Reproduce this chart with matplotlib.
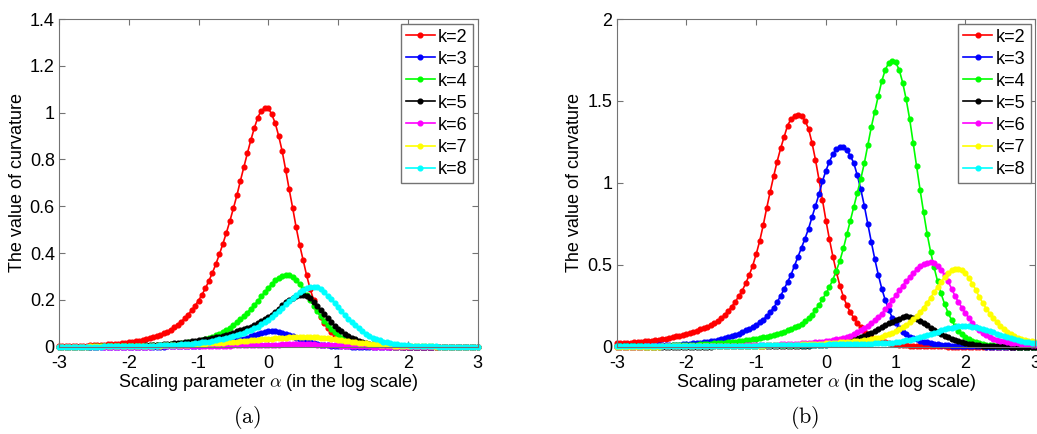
import numpy as np
import matplotlib
matplotlib.use("Agg")
import matplotlib.pyplot as plt
from matplotlib.ticker import FuncFormatter

# scaling parameter (log scale), step 0.05
alpha = np.round(np.linspace(-3, 3, 121), 2)

labels = ["k=2", "k=3", "k=4", "k=5", "k=6", "k=7", "k=8"]
colors = ["#ff0000", "#0000ff", "#00ff00", "#000000", "#ff00ff", "#ffff00", "#00ffff"]

# ---- panel (a) ----
a_k2 = [0.0022, 0.0024, 0.0027, 0.0030, 0.0033, 0.0037, 0.0041, 0.0046, 0.0051, 0.0057,
        0.0064, 0.0071, 0.0079, 0.0088, 0.0098, 0.011, 0.012, 0.0135, 0.015, 0.017,
        0.019, 0.021, 0.023, 0.026, 0.029, 0.032, 0.036, 0.040, 0.045, 0.050,
        0.057, 0.064, 0.073, 0.083, 0.094, 0.107, 0.121, 0.137, 0.155, 0.175,
        0.197, 0.222, 0.250, 0.282, 0.316, 0.354, 0.395, 0.440, 0.487, 0.537,
        0.591, 0.646, 0.708, 0.767, 0.826, 0.882, 0.934, 0.979, 1.009, 1.018,
        1.019, 0.993, 0.955, 0.900, 0.835, 0.755, 0.672, 0.593, 0.510, 0.435,
        0.370, 0.305, 0.248, 0.200, 0.160, 0.127, 0.100, 0.080, 0.063, 0.050,
        0.041, 0.033, 0.026, 0.020, 0.016, 0.012, 0.009, 0.007, 0.005, 0.004,
        0.003, 0.0022, 0.0016, 0.0012, 0.0009, 0.0007, 0.0005, 0.0004, 0.0003, 0.0002,
        0.0002, 0.0001, 0.0001, 0.0001, 0.0001, 0, 0, 0, 0, 0,
        0, 0, 0, 0, 0, 0, 0, 0, 0, 0,
        0]
a_k3 = [0.0001, 0.0001, 0.0001, 0.0001, 0.0001, 0.0001, 0.0001, 0.0001, 0.0001, 0.0001,
        0.0001, 0.0001, 0.0001, 0.0001, 0.0001, 0.0001, 0.0001, 0.0001, 0.0001, 0.0001,
        0.0001, 0.0002, 0.0002, 0.0002, 0.0003, 0.0003, 0.0004, 0.0005, 0.0006, 0.0007,
        0.0008, 0.001, 0.0012, 0.0015, 0.0018, 0.0021, 0.0025, 0.003, 0.0036, 0.0043,
        0.005, 0.006, 0.007, 0.008, 0.0095, 0.011, 0.013, 0.015, 0.0175, 0.020,
        0.023, 0.027, 0.031, 0.035, 0.039, 0.044, 0.049, 0.054, 0.059, 0.063,
        0.066, 0.067, 0.066, 0.063, 0.059, 0.055, 0.050, 0.045, 0.039, 0.034,
        0.028, 0.023, 0.019, 0.015, 0.012, 0.009, 0.007, 0.0055, 0.004, 0.003,
        0.0022, 0.0016, 0.0012, 0.0009, 0.0006, 0.0005, 0.0003, 0.0002, 0.0002, 0.0001,
        0.0001, 0, 0, 0, 0, 0, 0, 0, 0, 0,
        0, 0, 0, 0, 0, 0, 0, 0, 0, 0,
        0, 0, 0, 0, 0, 0, 0, 0, 0, 0,
        0]
a_k4 = [0.0002, 0.0002, 0.0003, 0.0003, 0.0003, 0.0004, 0.0004, 0.0005, 0.0005, 0.0006,
        0.0007, 0.0008, 0.0009, 0.001, 0.0011, 0.0012, 0.0014, 0.0016, 0.0018, 0.002,
        0.0023, 0.0026, 0.0029, 0.0033, 0.0037, 0.0042, 0.0047, 0.0053, 0.006, 0.0068,
        0.0077, 0.0087, 0.0098, 0.011, 0.0125, 0.014, 0.016, 0.018, 0.020, 0.022,
        0.025, 0.028, 0.032, 0.037, 0.042, 0.048, 0.055, 0.063, 0.072, 0.082,
        0.093, 0.105, 0.117, 0.131, 0.146, 0.162, 0.178, 0.196, 0.215, 0.233,
        0.251, 0.268, 0.284, 0.295, 0.302, 0.306, 0.305, 0.298, 0.284, 0.266,
        0.245, 0.222, 0.199, 0.176, 0.152, 0.130, 0.109, 0.091, 0.075, 0.061,
        0.049, 0.039, 0.031, 0.024, 0.019, 0.015, 0.011, 0.009, 0.007, 0.005,
        0.004, 0.003, 0.002, 0.0016, 0.0012, 0.0009, 0.0007, 0.0005, 0.0004, 0.0003,
        0.0002, 0.0002, 0.0001, 0.0001, 0, 0, 0, 0, 0, 0,
        0, 0, 0, 0, 0, 0, 0, 0, 0, 0,
        0]
a_k5 = [0.0003, 0.0003, 0.0003, 0.0004, 0.0004, 0.0005, 0.0005, 0.0006, 0.0007, 0.0008,
        0.0009, 0.001, 0.0011, 0.0012, 0.0014, 0.0016, 0.0018, 0.002, 0.0023, 0.0026,
        0.0029, 0.0033, 0.0037, 0.0042, 0.0048, 0.0054, 0.0061, 0.0069, 0.0078, 0.0088,
        0.0099, 0.011, 0.0125, 0.014, 0.0155, 0.017, 0.019, 0.021, 0.023, 0.025,
        0.027, 0.029, 0.031, 0.034, 0.037, 0.040, 0.043, 0.047, 0.051, 0.055,
        0.060, 0.065, 0.070, 0.075, 0.080, 0.086, 0.093, 0.101, 0.109, 0.118,
        0.127, 0.137, 0.150, 0.163, 0.177, 0.190, 0.200, 0.209, 0.216, 0.220,
        0.221, 0.218, 0.208, 0.193, 0.175, 0.156, 0.139, 0.122, 0.105, 0.090,
        0.077, 0.065, 0.055, 0.046, 0.038, 0.031, 0.025, 0.020, 0.016, 0.012,
        0.010, 0.008, 0.006, 0.0045, 0.0035, 0.0027, 0.002, 0.0015, 0.0011, 0.0008,
        0.0006, 0.0005, 0.0004, 0.0003, 0.0002, 0.0002, 0.0001, 0.0001, 0.0001, 0,
        0, 0, 0, 0, 0, 0, 0, 0, 0, 0,
        0]
a_k6 = [0.0001, 0.0001, 0.0001, 0.0001, 0.0001, 0.0001, 0.0001, 0.0001, 0.0001, 0.0001,
        0.0001, 0.0001, 0.0002, 0.0002, 0.0002, 0.0002, 0.0003, 0.0003, 0.0003, 0.0004,
        0.0004, 0.0005, 0.0005, 0.0006, 0.0006, 0.0007, 0.0008, 0.0009, 0.001, 0.0011,
        0.0012, 0.0013, 0.0014, 0.0015, 0.0016, 0.0018, 0.0019, 0.0021, 0.0023, 0.0025,
        0.0027, 0.0029, 0.0031, 0.0033, 0.0035, 0.0037, 0.004, 0.0043, 0.0046, 0.0049,
        0.0052, 0.0055, 0.0058, 0.0061, 0.0064, 0.0067, 0.007, 0.0073, 0.0076, 0.0079,
        0.0082, 0.0085, 0.0088, 0.0091, 0.0094, 0.0096, 0.0098, 0.010, 0.0101, 0.0102,
        0.0102, 0.0101, 0.0099, 0.0096, 0.0092, 0.0087, 0.0081, 0.0074, 0.0067, 0.006,
        0.0053, 0.0046, 0.004, 0.0034, 0.0029, 0.0024, 0.002, 0.0016, 0.0013, 0.001,
        0.0008, 0.0006, 0.0005, 0.0004, 0.0003, 0.0002, 0.0002, 0.0001, 0.0001, 0.0001,
        0.0001, 0, 0, 0, 0, 0, 0, 0, 0, 0,
        0, 0, 0, 0, 0, 0, 0, 0, 0, 0,
        0]
a_k7 = [0.0004, 0.0004, 0.0005, 0.0005, 0.0006, 0.0006, 0.0007, 0.0007, 0.0008, 0.0009,
        0.001, 0.0011, 0.0012, 0.0013, 0.0014, 0.0015, 0.0017, 0.0018, 0.002, 0.0022,
        0.0024, 0.0026, 0.0028, 0.003, 0.0033, 0.0036, 0.0039, 0.0042, 0.0046, 0.005,
        0.0054, 0.0058, 0.0063, 0.0068, 0.0073, 0.0079, 0.0085, 0.0091, 0.0098, 0.0105,
        0.0112, 0.012, 0.0128, 0.0137, 0.0146, 0.0155, 0.0165, 0.0175, 0.0186, 0.0197,
        0.021, 0.022, 0.0232, 0.0245, 0.0258, 0.027, 0.0283, 0.0296, 0.031, 0.0323,
        0.0335, 0.0348, 0.036, 0.0372, 0.0383, 0.0393, 0.0402, 0.041, 0.0416, 0.042,
        0.0421, 0.042, 0.0415, 0.0408, 0.0398, 0.0386, 0.0372, 0.0356, 0.0338, 0.0319,
        0.0299, 0.0278, 0.0257, 0.0236, 0.0215, 0.0195, 0.0175, 0.0157, 0.014, 0.0124,
        0.0109, 0.0096, 0.0084, 0.0073, 0.0063, 0.0055, 0.0047, 0.0041, 0.0035, 0.003,
        0.0026, 0.0022, 0.0019, 0.0016, 0.0014, 0.0012, 0.001, 0.0009, 0.0008, 0.0007,
        0.0006, 0.0005, 0.0004, 0.0004, 0.0003, 0.0003, 0.0002, 0.0002, 0.0002, 0.0001,
        0.0001]
a_k8 = [0.0002, 0.0002, 0.0003, 0.0003, 0.0003, 0.0004, 0.0004, 0.0005, 0.0005, 0.0006,
        0.0006, 0.0007, 0.0008, 0.0009, 0.001, 0.0011, 0.0012, 0.0013, 0.0015, 0.0017,
        0.0019, 0.0021, 0.0023, 0.0026, 0.0029, 0.0033, 0.0037, 0.0041, 0.0046, 0.0052,
        0.0058, 0.0064, 0.0072, 0.008, 0.0089, 0.0099, 0.011, 0.012, 0.0135, 0.015,
        0.0165, 0.018, 0.020, 0.022, 0.025, 0.028, 0.031, 0.034, 0.037, 0.040,
        0.044, 0.048, 0.053, 0.059, 0.065, 0.071, 0.078, 0.086, 0.095, 0.105,
        0.116, 0.128, 0.141, 0.154, 0.167, 0.181, 0.194, 0.208, 0.222, 0.234,
        0.244, 0.251, 0.255, 0.256, 0.253, 0.245, 0.232, 0.218, 0.203, 0.187,
        0.170, 0.153, 0.136, 0.120, 0.105, 0.091, 0.078, 0.066, 0.056, 0.047,
        0.039, 0.033, 0.027, 0.022, 0.018, 0.015, 0.012, 0.010, 0.008, 0.0065,
        0.0052, 0.0042, 0.0034, 0.0027, 0.0022, 0.0017, 0.0014, 0.0011, 0.0009, 0.0007,
        0.0006, 0.0005, 0.0004, 0.0003, 0.0003, 0.0002, 0.0002, 0.0001, 0.0001, 0.0001,
        0.0001]

# ---- panel (b) ----
b_k2 = [0.020, 0.021, 0.022, 0.024, 0.025, 0.027, 0.029, 0.031, 0.033, 0.035,
        0.037, 0.040, 0.043, 0.046, 0.050, 0.054, 0.058, 0.063, 0.068, 0.074,
        0.078, 0.084, 0.091, 0.098, 0.105, 0.113, 0.122, 0.131, 0.142, 0.155,
        0.175, 0.196, 0.219, 0.245, 0.275, 0.307, 0.342, 0.387, 0.437, 0.495,
        0.565, 0.645, 0.740, 0.845, 0.945, 1.040, 1.130, 1.210, 1.280, 1.350,
        1.390, 1.408, 1.414, 1.405, 1.380, 1.330, 1.245, 1.140, 1.020, 0.895,
        0.770, 0.655, 0.550, 0.455, 0.372, 0.305, 0.252, 0.210, 0.175, 0.145,
        0.118, 0.095, 0.076, 0.061, 0.049, 0.040, 0.033, 0.027, 0.022, 0.018,
        0.015, 0.012, 0.010, 0.0085, 0.007, 0.006, 0.005, 0.0042, 0.0035, 0.003,
        0.0025, 0.0021, 0.0018, 0.0015, 0.0013, 0.0011, 0.0009, 0.0008, 0.0007, 0.0006,
        0.0005, 0.0004, 0.0004, 0.0003, 0.0003, 0.0002, 0.0002, 0.0002, 0.0001, 0.0001,
        0.0001, 0.0001, 0.0001, 0.0001, 0.0001, 0, 0, 0, 0, 0,
        0]
b_k3 = [0.0028, 0.003, 0.0033, 0.0036, 0.0039, 0.0042, 0.0046, 0.005, 0.0055, 0.006,
        0.0065, 0.0071, 0.0078, 0.0085, 0.0093, 0.010, 0.011, 0.012, 0.013, 0.015,
        0.016, 0.018, 0.020, 0.022, 0.024, 0.027, 0.030, 0.033, 0.037, 0.041,
        0.046, 0.051, 0.057, 0.064, 0.072, 0.080, 0.089, 0.099, 0.110, 0.122,
        0.135, 0.150, 0.165, 0.185, 0.210, 0.238, 0.272, 0.310, 0.352, 0.395,
        0.440, 0.495, 0.550, 0.605, 0.660, 0.720, 0.790, 0.860, 0.930, 1.010,
        1.075, 1.130, 1.175, 1.205, 1.220, 1.218, 1.200, 1.165, 1.120, 1.045,
        0.960, 0.860, 0.750, 0.640, 0.535, 0.440, 0.355, 0.285, 0.225, 0.178,
        0.142, 0.114, 0.092, 0.075, 0.062, 0.052, 0.044, 0.037, 0.031, 0.026,
        0.022, 0.018, 0.015, 0.0125, 0.0105, 0.0087, 0.0072, 0.006, 0.005, 0.0041,
        0.0034, 0.0028, 0.0023, 0.0019, 0.0016, 0.0013, 0.0011, 0.0009, 0.0007, 0.0006,
        0.0005, 0.0004, 0.0003, 0.0003, 0.0002, 0.0002, 0.0002, 0.0001, 0.0001, 0.0001,
        0.0001]
b_k4 = [0.0020, 0.0022, 0.0024, 0.0026, 0.0028, 0.0030, 0.0033, 0.0036, 0.0039, 0.0042,
        0.0046, 0.0050, 0.0054, 0.0059, 0.0064, 0.0069, 0.0075, 0.0081, 0.0088, 0.0095,
        0.0103, 0.0112, 0.0122, 0.0133, 0.0145, 0.0157, 0.017, 0.0184, 0.0199, 0.0215,
        0.0232, 0.025, 0.027, 0.0292, 0.0315, 0.034, 0.037, 0.040, 0.043, 0.047,
        0.050, 0.053, 0.057, 0.061, 0.066, 0.072, 0.078, 0.084, 0.092, 0.100,
        0.111, 0.119, 0.128, 0.141, 0.155, 0.173, 0.196, 0.225, 0.255, 0.290,
        0.325, 0.365, 0.410, 0.465, 0.525, 0.600, 0.685, 0.770, 0.855, 0.940,
        1.025, 1.120, 1.230, 1.340, 1.435, 1.530, 1.620, 1.690, 1.732, 1.746,
        1.735, 1.690, 1.612, 1.510, 1.390, 1.245, 1.100, 0.956, 0.820, 0.690,
        0.580, 0.485, 0.400, 0.325, 0.262, 0.208, 0.163, 0.126, 0.097, 0.075,
        0.058, 0.045, 0.035, 0.027, 0.021, 0.016, 0.0125, 0.0097, 0.0075, 0.0058,
        0.0045, 0.0035, 0.0027, 0.0021, 0.0016, 0.0012, 0.0009, 0.0007, 0.0005, 0.0004,
        0.0003]
b_k5 = [0.0002, 0.0002, 0.0002, 0.0002, 0.0003, 0.0003, 0.0003, 0.0003, 0.0003, 0.0004,
        0.0004, 0.0004, 0.0004, 0.0005, 0.0005, 0.0005, 0.0006, 0.0006, 0.0007, 0.0007,
        0.0008, 0.0008, 0.0009, 0.0009, 0.001, 0.0011, 0.0012, 0.0012, 0.0013, 0.0014,
        0.0015, 0.0016, 0.0017, 0.0018, 0.0019, 0.002, 0.0021, 0.0022, 0.0023, 0.0024,
        0.0026, 0.0027, 0.0029, 0.0031, 0.0033, 0.0035, 0.0037, 0.0039, 0.0042, 0.0044,
        0.0047, 0.0051, 0.0055, 0.006, 0.0066, 0.0072, 0.008, 0.0088, 0.0097, 0.0107,
        0.013, 0.015, 0.018, 0.021, 0.025, 0.030, 0.035, 0.041, 0.048, 0.055,
        0.061, 0.068, 0.076, 0.085, 0.095, 0.106, 0.118, 0.130, 0.142, 0.153,
        0.163, 0.172, 0.180, 0.185, 0.184, 0.178, 0.168, 0.157, 0.145, 0.131,
        0.117, 0.103, 0.090, 0.078, 0.067, 0.057, 0.048, 0.040, 0.033, 0.027,
        0.022, 0.018, 0.014, 0.011, 0.009, 0.007, 0.0055, 0.0044, 0.0035, 0.0028,
        0.0022, 0.0018, 0.0014, 0.0011, 0.0009, 0.0007, 0.0006, 0.0005, 0.0004, 0.0003,
        0.0003]
b_k6 = [0.0008, 0.0009, 0.0009, 0.001, 0.001, 0.0011, 0.0012, 0.0012, 0.0013, 0.0014,
        0.0015, 0.0016, 0.0017, 0.0018, 0.0019, 0.002, 0.0022, 0.0023, 0.0025, 0.0027,
        0.0029, 0.0031, 0.0033, 0.0035, 0.0038, 0.004, 0.0043, 0.0046, 0.0049, 0.0052,
        0.0055, 0.0058, 0.0061, 0.0064, 0.0067, 0.0070, 0.0073, 0.0076, 0.0079, 0.0082,
        0.0085, 0.0089, 0.0094, 0.0102, 0.011, 0.012, 0.013, 0.014, 0.015, 0.016,
        0.017, 0.018, 0.019, 0.020, 0.021, 0.023, 0.025, 0.027, 0.029, 0.031,
        0.033, 0.036, 0.040, 0.044, 0.049, 0.054, 0.061, 0.068, 0.077, 0.087,
        0.099, 0.113, 0.128, 0.144, 0.161, 0.180, 0.201, 0.228, 0.256, 0.285,
        0.313, 0.343, 0.372, 0.400, 0.425, 0.448, 0.472, 0.490, 0.503, 0.511,
        0.514, 0.510, 0.494, 0.470, 0.438, 0.400, 0.355, 0.310, 0.272, 0.238,
        0.205, 0.175, 0.147, 0.122, 0.101, 0.084, 0.070, 0.059, 0.050, 0.043,
        0.037, 0.032, 0.028, 0.025, 0.022, 0.020, 0.018, 0.016, 0.014, 0.012,
        0.011]
b_k7 = [0.0005, 0.0005, 0.0006, 0.0006, 0.0007, 0.0007, 0.0008, 0.0008, 0.0009, 0.0010,
        0.0010, 0.0011, 0.0012, 0.0013, 0.0014, 0.0015, 0.0016, 0.0017, 0.0018, 0.0019,
        0.0020, 0.0021, 0.0022, 0.0024, 0.0025, 0.0027, 0.0028, 0.0030, 0.0032, 0.0034,
        0.0036, 0.0038, 0.0040, 0.0043, 0.0045, 0.0048, 0.0051, 0.0054, 0.0057, 0.0060,
        0.0064, 0.0068, 0.0072, 0.0076, 0.0081, 0.0086, 0.0091, 0.0096, 0.0102, 0.0108,
        0.0115, 0.0122, 0.0129, 0.0137, 0.0145, 0.0154, 0.0163, 0.0173, 0.0183, 0.0194,
        0.0206, 0.0218, 0.0231, 0.0245, 0.026, 0.0276, 0.0293, 0.0311, 0.033, 0.035,
        0.037, 0.040, 0.043, 0.047, 0.051, 0.056, 0.062, 0.069, 0.077, 0.086,
        0.096, 0.107, 0.119, 0.133, 0.149, 0.167, 0.188, 0.212, 0.239, 0.268,
        0.299, 0.332, 0.365, 0.396, 0.425, 0.449, 0.467, 0.477, 0.476, 0.466,
        0.448, 0.420, 0.385, 0.345, 0.303, 0.265, 0.232, 0.202, 0.174, 0.149,
        0.127, 0.108, 0.092, 0.078, 0.066, 0.056, 0.048, 0.042, 0.037, 0.033,
        0.030]
b_k8 = [0.0015, 0.0016, 0.0016, 0.0017, 0.0018, 0.0018, 0.0019, 0.002, 0.0021, 0.0021,
        0.0022, 0.0023, 0.0024, 0.0025, 0.0026, 0.0027, 0.0028, 0.0029, 0.003, 0.0032,
        0.0033, 0.0034, 0.0036, 0.0037, 0.0039, 0.004, 0.0042, 0.0044, 0.0046, 0.0048,
        0.005, 0.0052, 0.0054, 0.0056, 0.0058, 0.006, 0.0063, 0.0065, 0.0068, 0.007,
        0.0073, 0.0076, 0.0078, 0.0081, 0.0084, 0.0087, 0.009, 0.0093, 0.0096, 0.0099,
        0.0102, 0.0105, 0.0108, 0.0111, 0.0114, 0.0117, 0.012, 0.0123, 0.0126, 0.0129,
        0.0132, 0.0135, 0.0138, 0.0141, 0.0145, 0.0149, 0.0153, 0.0157, 0.0161, 0.0166,
        0.0171, 0.0177, 0.0183, 0.019, 0.0198, 0.0207, 0.0217, 0.0228, 0.024, 0.0253,
        0.028, 0.031, 0.034, 0.038, 0.042, 0.046, 0.051, 0.057, 0.063, 0.070,
        0.077, 0.084, 0.092, 0.099, 0.106, 0.112, 0.117, 0.121, 0.124, 0.126,
        0.126, 0.125, 0.122, 0.119, 0.114, 0.109, 0.102, 0.095, 0.087, 0.080,
        0.072, 0.064, 0.057, 0.051, 0.045, 0.040, 0.035, 0.031, 0.027, 0.024,
        0.022]

plt.rcParams["font.family"] = ["Liberation Sans", "DejaVu Sans"]
plt.rcParams["mathtext.fontset"] = "cm"

W, H = 1037, 434
fig = plt.figure(figsize=(W / 100, H / 100), dpi=100)


def draw_panel(left_px, curves, ymax, yticks, tag):
    ax = fig.add_axes([left_px / W, 87.3 / H, 418.5 / W, 327.7 / H])
    for vals, lab, col in zip(curves, labels, colors):
        ax.plot(alpha, vals, "-", color=col, lw=1.2, marker="o", ms=3.4,
                mec=col, mfc=col, label=lab, clip_on=False)

    ax.set_xlim(-3, 3)
    ax.set_ylim(0, ymax)
    ax.set_xticks(range(-3, 4))
    ax.set_yticks(yticks)
    fmt = FuncFormatter(lambda v, p: f"{v:g}")
    ax.xaxis.set_major_formatter(fmt)
    ax.yaxis.set_major_formatter(fmt)
    ax.tick_params(direction="in", top=True, right=True, length=4, width=0.8,
                   color="0.45", labelcolor="black", labelsize=13)
    ax.tick_params(axis="x", pad=6)
    ax.tick_params(axis="y", pad=3)
    for sp in ax.spines.values():
        sp.set_color("0.45")
        sp.set_linewidth(0.8)

    ax.set_xlabel(r"Scaling parameter $\alpha$ (in the log scale)", fontsize=13)
    ax.set_ylabel("The value of curvature", fontsize=13)
    ax.xaxis.set_label_coords(0.5, -0.076)
    ax.yaxis.set_label_coords(-0.08, 0.5)

    ax.legend(loc="upper right", fontsize=13, frameon=True, fancybox=False,
              edgecolor="0.45", framealpha=1, borderaxespad=0.25, borderpad=0.28,
              labelspacing=0.28, handlelength=1.6, handletextpad=0.2, numpoints=1)

    cx = (left_px + 418.5 / 2) / W
    fig.text(cx - 0.02, 0.037, r"$\mathrm{" + tag + "}$", fontsize=16,
             ha="center", va="center")
    return ax


draw_panel(59, [a_k2, a_k3, a_k4, a_k5, a_k6, a_k7, a_k8], 1.4,
           np.arange(0, 1.41, 0.2), "(a)")
draw_panel(616.7, [b_k2, b_k3, b_k4, b_k5, b_k6, b_k7, b_k8], 2.0,
           np.arange(0, 2.01, 0.5), "(b)")

fig.savefig("out.png", dpi=100)
